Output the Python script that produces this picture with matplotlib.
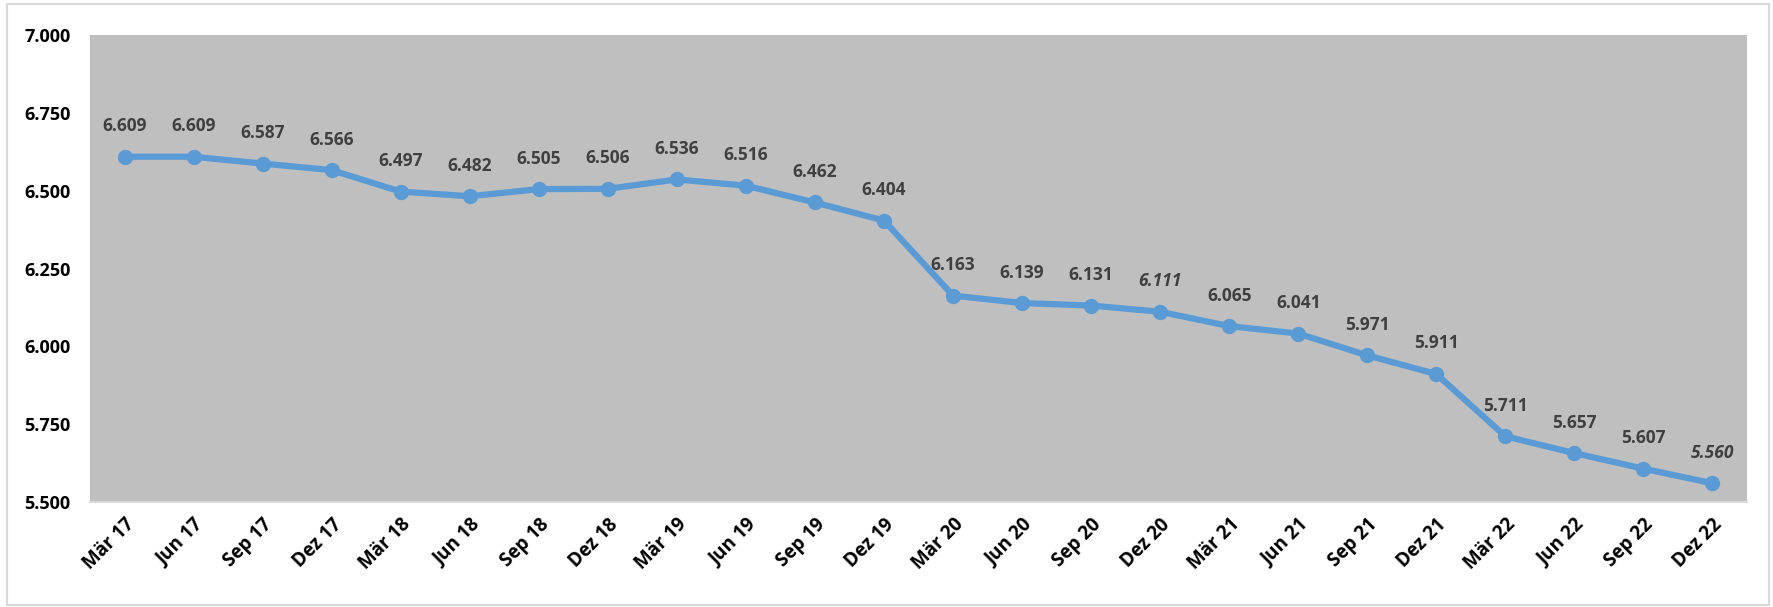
import matplotlib.pyplot as plt
from matplotlib.patches import Rectangle

# Quartale und Werte
quartale = ["Mär 17", "Jun 17", "Sep 17", "Dez 17", "Mär 18", "Jun 18", "Sep 18", "Dez 18",
            "Mär 19", "Jun 19", "Sep 19", "Dez 19", "Mär 20", "Jun 20", "Sep 20", "Dez 20",
            "Mär 21", "Jun 21", "Sep 21", "Dez 21", "Mär 22", "Jun 22", "Sep 22", "Dez 22"]
werte = [6609, 6609, 6587, 6566, 6497, 6482, 6505, 6506,
         6536, 6516, 6462, 6404, 6163, 6139, 6131, 6111,
         6065, 6041, 5971, 5911, 5711, 5657, 5607, 5560]
kursiv = ["Dez 20", "Dez 22"]
y_ticks = [5500, 5750, 6000, 6250, 6500, 6750, 7000]


def fmt(v):
    return f"{v:,}".replace(",", ".")


plt.rcParams["font.family"] = ["Open Sans", "DejaVu Sans"]

fig = plt.figure(figsize=(17.73, 6.07), dpi=100)
ax = fig.add_axes([90 / 1773, 1 - 502 / 607, (1747 - 90) / 1773, (502 - 35) / 607])
ax.set_facecolor("#BFBFBF")

x = list(range(len(quartale)))
ax.plot(x, werte, color="#5B9BD5", lw=4.5, marker="o", ms=10, solid_capstyle="round")

for xi, v, q in zip(x, werte, quartale):
    ax.annotate(fmt(v), (xi, v), xytext=(0, 22), textcoords="offset points",
                ha="center", va="center", fontsize=12.5, fontweight="bold",
                color="#404040", style="italic" if q in kursiv else "normal")

ax.set_xlim(-0.5, len(quartale) - 0.5)
ax.set_ylim(5500, 7000)
ax.set_yticks(y_ticks)
ax.set_yticklabels([fmt(t) for t in y_ticks], fontsize=13, fontweight="bold")
ax.set_xticks(x)
ax.set_xticklabels(quartale, rotation=45, ha="right", rotation_mode="anchor",
                   fontsize=13.5, fontweight="bold")
ax.tick_params(length=0, pad=9)
ax.tick_params(axis="y", pad=14)
for s in ax.spines.values():
    s.set_visible(False)
ax.spines["bottom"].set_visible(True)
ax.spines["bottom"].set_color("#D9D9D9")
ax.spines["bottom"].set_linewidth(1.5)

# Rahmen um die Grafik
fig.patches.append(Rectangle((7 / 1773, 2 / 607), 1762 / 1773, 601 / 607,
                             transform=fig.transFigure, fill=False,
                             edgecolor="#D9D9D9", lw=1.5))

fig.savefig("out.png", dpi=100)
